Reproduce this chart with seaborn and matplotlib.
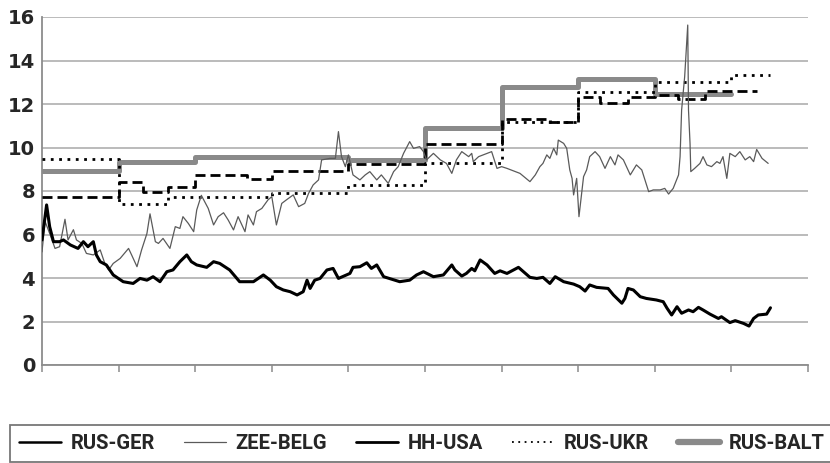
import numpy as np
import pandas as pd
import matplotlib
matplotlib.use('Agg')
import matplotlib.pyplot as plt
from matplotlib.lines import Line2D
import seaborn as sns

# ─── Datos (eje x en años desde el inicio) ─────────────────────────────────
hh_x = [0.00, 0.06, 0.10, 0.15, 0.23, 0.28, 0.37, 0.47, 0.54, 0.60, 0.67, 0.71,
        0.76, 0.84, 0.93, 1.06, 1.19, 1.28, 1.37, 1.45, 1.54, 1.63, 1.71, 1.80,
        1.89, 1.95, 2.02, 2.15, 2.24, 2.32, 2.45, 2.58, 2.76, 2.89, 2.98, 3.06,
        3.15, 3.24, 3.33, 3.41, 3.46, 3.50, 3.56, 3.63, 3.72, 3.80, 3.87, 4.02,
        4.06, 4.15, 4.24, 4.30, 4.37, 4.46, 4.67, 4.80, 4.89, 4.98, 5.11, 5.24,
        5.35, 5.39, 5.48, 5.54, 5.61, 5.65, 5.72, 5.81, 5.91, 5.98, 6.07, 6.22,
        6.37, 6.46, 6.54, 6.63, 6.70, 6.81, 6.94, 7.02, 7.09, 7.15, 7.24, 7.39,
        7.46, 7.57, 7.61, 7.65, 7.72, 7.81, 7.89, 8.02, 8.11, 8.16, 8.22, 8.29,
        8.35, 8.44, 8.50, 8.57, 8.63, 8.72, 8.83, 8.87, 8.98, 9.05, 9.16, 9.23,
        9.29, 9.35, 9.46, 9.51]
hh_y = [5.75, 7.36, 6.36, 5.67, 5.67, 5.75, 5.52, 5.36, 5.67, 5.44, 5.67, 5.06,
        4.75, 4.60, 4.14, 3.83, 3.75, 3.98, 3.90, 4.06, 3.83, 4.29, 4.37, 4.75,
        5.06, 4.75, 4.60, 4.49, 4.75, 4.67, 4.37, 3.83, 3.83, 4.14, 3.90, 3.60,
        3.45, 3.37, 3.22, 3.37, 3.90, 3.52, 3.90, 3.98, 4.37, 4.44, 3.98, 4.21,
        4.49, 4.52, 4.70, 4.44, 4.60, 4.06, 3.83, 3.90, 4.14, 4.29, 4.06, 4.14,
        4.60, 4.37, 4.09, 4.21, 4.44, 4.33, 4.83, 4.60, 4.21, 4.33, 4.21, 4.49,
        4.03, 3.98, 4.03, 3.75, 4.06, 3.83, 3.72, 3.60, 3.40, 3.68, 3.57, 3.52,
        3.22, 2.84, 3.06, 3.52, 3.45, 3.14, 3.06, 2.99, 2.91, 2.61, 2.30, 2.68,
        2.38, 2.53, 2.45, 2.65, 2.53, 2.34, 2.14, 2.22, 1.95, 2.04, 1.91, 1.79,
        2.14, 2.30, 2.34, 2.63]

zee_x = [0.00, 0.04, 0.10, 0.17, 0.23, 0.30, 0.34, 0.41, 0.45, 0.52, 0.58, 0.67,
         0.76, 0.82, 0.87, 0.93, 1.02, 1.13, 1.17, 1.24, 1.30, 1.37, 1.41, 1.48,
         1.52, 1.58, 1.67, 1.74, 1.80, 1.84, 1.91, 1.98, 2.02, 2.08, 2.17, 2.24,
         2.30, 2.37, 2.43, 2.50, 2.56, 2.65, 2.69, 2.76, 2.80, 2.87, 2.95, 3.00,
         3.06, 3.13, 3.19, 3.28, 3.35, 3.43, 3.48, 3.54, 3.61, 3.65, 3.76, 3.83,
         3.87, 3.91, 3.96, 4.00, 4.06, 4.15, 4.22, 4.28, 4.37, 4.43, 4.52, 4.59,
         4.65, 4.72, 4.80, 4.85, 4.93, 4.98, 5.02, 5.11, 5.20, 5.28, 5.35, 5.41,
         5.48, 5.57, 5.61, 5.63, 5.70, 5.81, 5.87, 5.94, 6.00, 6.07, 6.24, 6.37,
         6.44, 6.50, 6.54, 6.59, 6.63, 6.68, 6.72, 6.74, 6.81, 6.85, 6.89, 6.92,
         6.94, 6.98, 7.01, 7.07, 7.11, 7.15, 7.22, 7.28, 7.35, 7.42, 7.48, 7.52,
         7.59, 7.68, 7.76, 7.83, 7.92, 7.98, 8.07, 8.13, 8.18, 8.24, 8.31, 8.33,
         8.35, 8.39, 8.43, 8.44, 8.46, 8.47, 8.52, 8.59, 8.63, 8.68, 8.74, 8.81,
         8.85, 8.89, 8.94, 8.98, 9.05, 9.11, 9.18, 9.24, 9.29, 9.33, 9.40, 9.48]
zee_y = [5.20, 6.60, 6.05, 5.36, 5.44, 6.70, 5.75, 6.22, 5.75, 5.59, 5.13, 5.06,
         5.29, 4.67, 4.37, 4.67, 4.90, 5.36, 5.06, 4.52, 5.29, 6.05, 6.95, 5.67,
         5.59, 5.82, 5.36, 6.36, 6.28, 6.82, 6.51, 6.13, 7.13, 7.80, 7.20, 6.44,
         6.82, 7.00, 6.67, 6.21, 6.82, 6.13, 6.90, 6.44, 7.05, 7.20, 7.59, 7.74,
         6.44, 7.43, 7.59, 7.82, 7.28, 7.43, 7.89, 8.28, 8.51, 9.43, 9.50, 9.50,
         10.73, 9.58, 9.12, 9.66, 8.74, 8.51, 8.74, 8.89, 8.51, 8.74, 8.35, 8.89,
         9.12, 9.73, 10.27, 9.96, 10.04, 9.81, 9.43, 9.73, 9.43, 9.27, 8.81, 9.43,
         9.81, 9.58, 9.73, 9.35, 9.58, 9.73, 9.81, 9.04, 9.12, 9.04, 8.81, 8.43,
         8.74, 9.12, 9.27, 9.66, 9.50, 9.96, 9.66, 10.34, 10.19, 9.96, 8.97, 8.58,
         7.82, 8.58, 6.82, 8.66, 8.97, 9.58, 9.81, 9.58, 9.04, 9.58, 9.20, 9.66,
         9.43, 8.74, 9.20, 8.97, 7.97, 8.05, 8.05, 8.12, 7.86, 8.12, 8.74, 9.58,
         11.72, 13.26, 15.63, 11.72, 10.19, 8.89, 9.04, 9.27, 9.58, 9.20, 9.12, 9.35,
         9.27, 9.58, 8.58, 9.73, 9.58, 9.81, 9.43, 9.58, 9.35, 9.91, 9.50, 9.27]

# Series escalonadas (valor vigente desde cada x)
ger_x = [0, 1, 1.32, 1.64, 2, 2.68, 3, 4, 5, 6, 6.63, 7, 7.28, 7.65, 8, 8.30, 8.66, 9.34]
ger_y = [7.71, 8.40, 7.97, 8.20, 8.75, 8.53, 8.93, 9.23, 10.16, 11.30, 11.15,
         12.30, 12.06, 12.30, 12.40, 12.21, 12.62, 12.62]

ukr_x = [0, 1, 1.64, 3, 4, 5, 6, 7, 8, 9, 9.50]
ukr_y = [9.47, 7.40, 7.71, 7.92, 8.28, 9.27, 11.16, 12.54, 13.03, 13.32, 13.32]

balt_x = [0, 1, 2, 4, 5, 6, 7, 8, 9]
balt_y = [8.90, 9.33, 9.58, 9.42, 10.90, 12.77, 13.15, 12.45, 12.45]

y_ticks = [0, 2, 4, 6, 8, 10, 12, 14, 16]
x_ticks = list(range(0, 11))

# ─── Estilos ────────────────────────────────────────────────────────────────
GRIS_BALT = '#8a8a8a'
GRIS_ZEE  = '#5a5a5a'
GRIS_EJE  = '#8c8c8c'
GRIS_GRID = '#a8a8a8'

sns.set_theme(style='white')
plt.rcParams['font.family'] = ['DejaVu Sans']

fig = plt.figure(figsize=(8.3, 4.63), dpi=100)
ax = fig.add_axes([42/830, 1 - 365/463, 766/830, 348/463])

sns.lineplot(x=balt_x, y=balt_y, ax=ax, color=GRIS_BALT, lw=3.6,
             drawstyle='steps-post', estimator=None, zorder=2)
sns.lineplot(x=ukr_x, y=ukr_y, ax=ax, color='black', lw=2.0,
             linestyle=(0, (1, 2)), drawstyle='steps-post', estimator=None, zorder=3)
sns.lineplot(x=ger_x, y=ger_y, ax=ax, color='black', lw=2.0,
             linestyle=(0, (3.6, 1.8)), drawstyle='steps-post', estimator=None, zorder=3)
sns.lineplot(x=zee_x, y=zee_y, ax=ax, color=GRIS_ZEE, lw=0.9,
             estimator=None, zorder=4)
sns.lineplot(x=hh_x, y=hh_y, ax=ax, color='black', lw=2.2,
             estimator=None, zorder=5)

ax.set_xlim(0, 10)
ax.set_ylim(0, 16)
ax.set_xticks(x_ticks)
ax.set_xticklabels([])
ax.set_yticks(y_ticks)
ax.set_yticklabels([str(v) for v in y_ticks], fontsize=14, fontweight='bold')
ax.tick_params(axis='x', direction='out', length=5, width=1.1, color=GRIS_EJE, bottom=True)
ax.tick_params(axis='y', length=0, pad=5)
ax.grid(axis='y', color=GRIS_GRID, lw=1.1)
ax.grid(axis='x', visible=False)
ax.set_axisbelow(True)
for s in ['top', 'right']:
    ax.spines[s].set_visible(False)
for s in ['left', 'bottom']:
    ax.spines[s].set_color(GRIS_EJE)
    ax.spines[s].set_linewidth(1.3)
ax.set_xlabel('')
ax.set_ylabel('')

handles = [
    Line2D([], [], color='black', lw=1.8),
    Line2D([], [], color=GRIS_ZEE, lw=0.9),
    Line2D([], [], color='black', lw=2.0),
    Line2D([], [], color='black', lw=1.3, linestyle=(0, (1, 2.5))),
    Line2D([], [], color=GRIS_BALT, lw=4.5, solid_capstyle='round'),
]
labels = ['RUS-GER', 'ZEE-BELG', 'HH-USA', 'RUS-UKR', 'RUS-BALT']
leg = fig.legend(handles, labels, loc='upper left', bbox_to_anchor=(10/830, 1 - 425/463),
                 ncol=5, frameon=True, fancybox=False, borderpad=0.45,
                 handlelength=2.1, handletextpad=0.45, columnspacing=1.45,
                 borderaxespad=0,
                 prop={'family': ['Roboto', 'DejaVu Sans'],
                       'weight': 'bold', 'size': 14.5})
leg.get_frame().set_edgecolor('#555555')
leg.get_frame().set_linewidth(1.3)

fig.savefig('out.png', dpi=100)
